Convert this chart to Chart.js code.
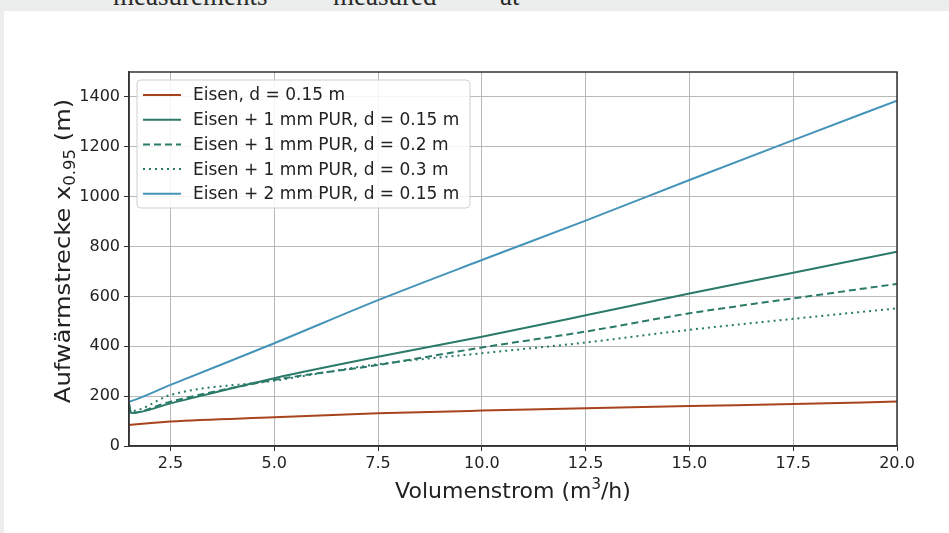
<!DOCTYPE html>
<html>
<head>
<meta charset="utf-8">
<script src="https://cdn.jsdelivr.net/npm/chart.js@4/dist/chart.umd.min.js"></script>
<style>
  html, body { margin: 0; padding: 0; }
  body { width: 949px; height: 533px; background: #eceeed; position: relative; overflow: hidden; }
  .sheet { position: absolute; left: 4px; top: 11px; right: 0; bottom: 0; background: #fff; }
  .cut { position: absolute; left: 0; top: 0; width: 949px; height: 11px; overflow: hidden; }
  .cut span { position: absolute; top: -17px; font: 27px/27px "Liberation Serif", serif; color: #2a2a2a; }
  canvas { position: absolute; left: 0; top: 0; }
</style>
</head>
<body>
<div class="sheet"></div>
<div class="cut">
  <span style="left:113px">measurements</span>
  <span style="left:333px">measured</span>
  <span style="left:500px">at</span>
</div>
<canvas id="chart" width="949" height="533"></canvas>
<script>
// Volumenstrom in m3/h
const flow = [1.5, 1.55, 2.5, 5, 7.5, 10, 12.5, 15, 17.5, 20];

// Aufwärmstrecke x_0.95 in m
const eisen015 = [84, 85, 98, 115, 131, 142, 151, 160, 168, 178];
const pur1d015 = [172, 132, 171, 272, 358, 438, 524, 612, 695, 779];
const pur1d02 = [165, 133, 178, 265, 325, 395, 459, 532, 592, 650];
const pur1d03 = [150, 140, 205, 262, 328, 372, 415, 466, 510, 552];
const pur2d015 = [178, 180, 245, 412, 585, 746, 904, 1067, 1227, 1385];

const xTicks = [2.5, 5, 7.5, 10, 12.5, 15, 17.5, 20];
const yTicks = [0, 200, 400, 600, 800, 1000, 1200, 1400];

const FONT = '"DejaVu Sans", sans-serif';
const INK = '#222';

function pts(ys) {
  return flow.map((x, i) => ({x, y: ys[i]}));
}

const series = [
  {label: 'Eisen, d = 0.15 m', data: eisen015, color: '#a8441d', dash: []},
  {label: 'Eisen + 1 mm PUR, d = 0.15 m', data: pur1d015, color: '#2b7a69', dash: []},
  {label: 'Eisen + 1 mm PUR, d = 0.2 m', data: pur1d02, color: '#2b7a69', dash: [7, 4]},
  {label: 'Eisen + 1 mm PUR, d = 0.3 m', data: pur1d03, color: '#2b7a69', dash: [2, 4]},
  {label: 'Eisen + 2 mm PUR, d = 0.15 m', data: pur2d015, color: '#4594b9', dash: []},
];

function drawParts(ctx, parts, cx, y, stretch) {
  let w = 0;
  parts.forEach(p => { ctx.font = p[1]; w += ctx.measureText(p[0]).width; });
  ctx.save();
  ctx.translate(cx, y);
  ctx.scale(stretch, 1);
  let x = -w / 2;
  parts.forEach(p => {
    ctx.font = p[1];
    ctx.fillText(p[0], x, p[2]);
    x += ctx.measureText(p[0]).width;
  });
  ctx.restore();
}

// draws frame, legend box and axis titles (with sub/superscripts)
const decorations = {
  id: 'decorations',
  afterDraw(chart) {
    const ctx = chart.ctx;
    const a = chart.chartArea;
    ctx.save();

    // legend
    const lx = 137, ly = 80, lw = 333, lh = 128;
    ctx.beginPath();
    ctx.roundRect(lx, ly, lw, lh, 4);
    ctx.fillStyle = 'rgba(255,255,255,0.85)';
    ctx.fill();
    ctx.strokeStyle = '#cfcfcf';
    ctx.lineWidth = 1;
    ctx.stroke();
    ctx.font = '17px ' + FONT;
    ctx.textBaseline = 'middle';
    chart.data.datasets.forEach((ds, i) => {
      const y = 95 + i * 24.7;
      ctx.beginPath();
      ctx.setLineDash(ds.borderDash);
      ctx.strokeStyle = ds.borderColor;
      ctx.lineWidth = 2;
      ctx.moveTo(143, y);
      ctx.lineTo(181, y);
      ctx.stroke();
      ctx.setLineDash([]);
      ctx.fillStyle = INK;
      ctx.fillText(ds.label, 193, y + 1);
    });

    // frame
    ctx.strokeStyle = '#333';
    ctx.lineWidth = 1.5;
    ctx.strokeRect(a.left, a.top, a.right - a.left, a.bottom - a.top);

    // x title
    ctx.fillStyle = INK;
    ctx.textBaseline = 'alphabetic';
    drawParts(ctx, [
      ['Volumenstrom (m', '22px ' + FONT, 0],
      ['3', '15px ' + FONT, -9],
      ['/h)', '22px ' + FONT, 0],
    ], (a.left + a.right) / 2, 498, 1);

    // y title
    ctx.translate(70, 251);
    ctx.rotate(-Math.PI / 2);
    drawParts(ctx, [
      ['Aufwärmstrecke x', '22px ' + FONT, 0],
      ['0.95', '15px ' + FONT, 5],
      [' (m)', '22px ' + FONT, 0],
    ], 0, 0, 1.1);
    ctx.restore();
  }
};

new Chart(document.getElementById('chart').getContext('2d'), {
  type: 'line',
  data: {
    datasets: series.map(s => ({
      label: s.label,
      data: pts(s.data),
      borderColor: s.color,
      backgroundColor: s.color,
      borderDash: s.dash,
      borderWidth: 2,
      pointRadius: 0,
      fill: false,
      cubicInterpolationMode: 'monotone',
    })),
  },
  options: {
    responsive: false,
    animation: false,
    layout: {padding: {left: 0, top: 72, right: 52, bottom: 0}},
    plugins: {
      legend: {display: false},
      tooltip: {enabled: false},
    },
    scales: {
      x: {
        type: 'linear',
        min: 1.5,
        max: 20,
        afterBuildTicks: scale => { scale.ticks = xTicks.map(v => ({value: v})); },
        afterFit: scale => { scale.height = 87; },
        ticks: {
          color: INK,
          font: {family: FONT, size: 16},
          padding: 3,
          maxRotation: 0,
          callback: v => v.toFixed(1),
        },
        grid: {color: '#b8b8b8', lineWidth: 1, tickLength: 5, tickColor: '#333'},
        border: {color: '#333', width: 1.5},
      },
      y: {
        min: 0,
        max: 1500,
        afterBuildTicks: scale => { scale.ticks = yTicks.map(v => ({value: v})); },
        afterFit: scale => { scale.width = 129; },
        ticks: {
          color: INK,
          font: {family: FONT, size: 16},
          padding: 4,
          callback: v => String(v),
        },
        grid: {color: '#b8b8b8', lineWidth: 1, tickLength: 5, tickColor: '#333'},
        border: {color: '#333', width: 1.5},
      },
    },
  },
  plugins: [decorations],
});
</script>
</body>
</html>
